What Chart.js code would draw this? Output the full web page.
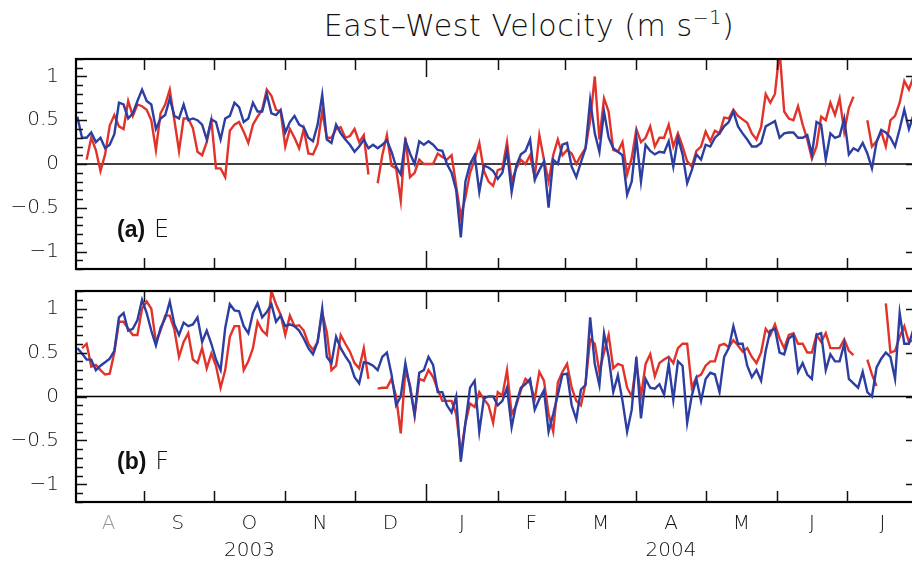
<!DOCTYPE html>
<html>
<head>
<meta charset="utf-8">
<script src="https://cdn.jsdelivr.net/npm/chart.js@4.4.1/dist/chart.umd.min.js"></script>
<style>
  html, body { margin: 0; padding: 0; background: #fff; overflow: hidden; }
  #wrap { position: relative; width: 912px; height: 564px; overflow: hidden; }
  canvas { position: absolute; left: 0; }
  #title {
    position: absolute; left: 0; width: 1058px; top: 8px; text-align: center;
    font-family: "DejaVu Sans", sans-serif; font-weight: 200; font-size: 30px; color: #111;
    letter-spacing: 0.6px;
  }
  #title sup { font-size: 19px; vertical-align: 12px; line-height: 0; }
</style>
</head>
<body>
<div id="wrap">
  <div id="title">East–West Velocity (m s<sup>−1</sup>)</div>
  <canvas id="panelE" width="920" height="280" style="top:0"></canvas>
  <canvas id="panelF" width="920" height="284" style="top:280px"></canvas>
</div>
<script>
// days since 1 Aug 2003, one sample every 2 days (day 2 ... day 364)
const firstDay = 2;
const dayStep = 2;

// (a) E
const eBlue = [
  0.54, 0.30, 0.30, 0.36, 0.25, 0.30, 0.18, 0.22, 0.34, 0.70,
  0.68, 0.52, 0.58, 0.72, 0.85, 0.72, 0.68, 0.40, 0.52, 0.56,
  0.75, 0.55, 0.52, 0.68, 0.50, 0.52, 0.50, 0.45, 0.28, 0.51,
  0.48, 0.28, 0.52, 0.55, 0.70, 0.65, 0.48, 0.52, 0.70, 0.60,
  0.60, 0.80, 0.58, 0.56, 0.62, 0.36, 0.48, 0.55, 0.45, 0.42,
  0.30, 0.26, 0.45, 0.79, 0.28, 0.24, 0.45, 0.35, 0.28, 0.22,
  0.14, 0.20, 0.28, 0.18, 0.22, 0.18, 0.22, 0.27, 0.14, -0.03,
  -0.12, 0.27, 0.12, 0.00, 0.26, 0.22, 0.26, 0.22, 0.16, 0.15,
  0.00, -0.10, -0.30, -0.84, -0.20, 0.00, 0.10, -0.32, -0.02, -0.04,
  -0.08, -0.17, -0.10, 0.15, -0.32, -0.02, 0.11, 0.15, 0.28, -0.18,
  -0.07, 0.03, -0.50, 0.05, 0.00, 0.22, 0.24, -0.03, -0.15, 0.02,
  0.18, 0.73, 0.35, 0.14, 0.60, 0.30, 0.18, 0.14, 0.10, -0.35,
  -0.20, 0.30, -0.20, 0.22, 0.15, 0.11, 0.14, 0.13, 0.26, -0.03,
  0.30, 0.11, -0.22, -0.07, 0.11, 0.05, 0.22, 0.20, 0.30, 0.35,
  0.43, 0.48, 0.60, 0.43, 0.35, 0.28, 0.20, 0.20, 0.24, 0.43,
  0.46, 0.49, 0.30, 0.35, 0.36, 0.36, 0.30, 0.30, 0.33, 0.11,
  0.48, 0.45, 0.05, 0.35, 0.30, 0.32, 0.52, 0.11, 0.18, 0.15,
  0.24, 0.12, -0.05, 0.25, 0.39, 0.36, 0.30, 0.20, 0.40, 0.62,
  0.40, 0.56
];
const eRed = [
  null, null, 0.05, 0.30, 0.16, -0.08, 0.11, 0.44, 0.56, 0.43,
  0.40, 0.72, 0.55, 0.68, 0.66, 0.62, 0.50, 0.16, 0.58, 0.68,
  0.85, 0.50, 0.15, 0.52, 0.52, 0.41, 0.14, 0.10, 0.25, 0.50,
  -0.05, -0.05, -0.15, 0.38, 0.45, 0.48, 0.37, 0.24, 0.45, 0.54,
  0.62, 0.85, 0.78, 0.62, 0.60, 0.20, 0.40, 0.30, 0.18, 0.40,
  0.12, 0.11, 0.23, 0.60, 0.30, 0.30, 0.40, 0.42, 0.30, 0.32,
  0.40, 0.25, 0.33, -0.12, null, -0.22, 0.10, 0.33, -0.02, -0.05,
  -0.42, 0.30, -0.15, -0.10, 0.05, 0.00, 0.00, 0.00, 0.12, 0.08,
  0.05, 0.10, -0.25, -0.60, -0.38, -0.10, 0.05, 0.24, -0.08, -0.20,
  -0.25, -0.07, -0.05, 0.25, -0.20, -0.05, 0.05, 0.00, 0.10, -0.15,
  0.33, 0.05, -0.20, 0.10, 0.28, 0.10, 0.16, 0.12, 0.00, 0.10,
  0.18, 0.50, 1.00, 0.28, 0.75, 0.60, 0.16, 0.14, 0.25, -0.12,
  0.07, 0.40, 0.25, 0.30, 0.43, 0.20, 0.30, 0.30, 0.45, 0.20,
  0.35, 0.20, 0.03, -0.03, 0.15, 0.20, 0.37, 0.26, 0.38, 0.35,
  0.53, 0.52, 0.62, 0.55, 0.51, 0.47, 0.35, 0.28, 0.42, 0.80,
  0.70, 0.80, 1.30, 0.60, 0.52, 0.50, 0.66, 0.45, 0.28, 0.06,
  0.20, 0.54, 0.50, 0.70, 0.56, 0.75, 0.37, 0.64, 0.77, null,
  null, 0.50, 0.20, 0.26, 0.37, 0.20, 0.50, 0.55, 0.70, 0.95,
  0.85, 1.00
];

// (b) F
const fBlue = [
  0.55, 0.49, 0.42, 0.42, 0.30, 0.35, 0.39, 0.43, 0.52, 0.90,
  0.95, 0.75, 0.77, 0.87, 1.10, 0.95, 0.75, 0.58, 0.78, 0.89,
  1.08, 0.82, 0.70, 0.84, 0.80, 0.82, 0.90, 0.62, 0.75, 0.60,
  0.42, 0.30, 0.78, 1.05, 0.98, 0.97, 0.80, 0.72, 0.95, 1.06,
  0.90, 0.96, 1.05, 0.85, 0.92, 0.80, 0.82, 0.80, 0.75, 0.66,
  0.55, 0.48, 0.62, 1.00, 0.45, 0.38, 0.68, 0.55, 0.46, 0.38,
  0.22, 0.15, 0.39, 0.38, 0.35, 0.30, 0.45, 0.50, 0.25, -0.10,
  0.00, 0.38, 0.10, -0.20, 0.27, 0.30, 0.45, 0.36, 0.05, 0.05,
  -0.10, -0.18, 0.00, -0.74, -0.30, 0.10, 0.18, -0.40, -0.02, 0.00,
  0.00, -0.10, -0.05, 0.10, -0.35, -0.08, 0.10, 0.14, 0.20, -0.15,
  -0.03, 0.07, -0.40, -0.20, 0.02, 0.25, 0.26, -0.10, -0.26, 0.08,
  0.13, 0.90, 0.37, 0.13, 0.72, 0.45, 0.05, 0.24, -0.05, -0.40,
  -0.15, 0.45, -0.25, 0.20, 0.10, 0.09, 0.14, 0.02, 0.37, -0.04,
  0.40, 0.35, -0.30, 0.01, 0.20, -0.05, 0.20, 0.27, 0.25, 0.05,
  0.45, 0.55, 0.80, 0.60, 0.60, 0.35, 0.22, 0.30, 0.18, 0.52,
  0.75, 0.77, 0.50, 0.48, 0.66, 0.70, 0.28, 0.38, 0.25, 0.20,
  0.70, 0.72, 0.30, 0.48, 0.40, 0.40, 0.60, 0.20, 0.15, 0.10,
  0.28, 0.05, 0.00, 0.33, 0.43, 0.50, 0.45, 0.20, 0.95, 0.60,
  0.60, 0.77
];
const fRed = [
  null, 0.55, 0.60, 0.34, 0.36, 0.30, 0.25, 0.26, 0.50, 0.85,
  0.85, 0.77, 0.70, 0.70, 1.00, 1.08, 1.00, 0.62, 0.75, 0.92,
  0.92, 0.76, 0.45, 0.62, 0.72, 0.42, 0.38, 0.55, 0.32, 0.49,
  0.35, 0.10, 0.30, 0.68, 0.80, 0.80, 0.30, 0.40, 0.55, 0.85,
  0.75, 0.70, 1.20, 1.05, 0.93, 0.70, 0.92, 0.80, 0.81, 0.75,
  0.60, 0.53, 0.62, 0.95, 0.73, 0.30, 0.35, 0.70, 0.60, 0.51,
  0.38, 0.32, 0.55, 0.20, null, 0.09, 0.10, 0.10, 0.20, 0.00,
  -0.42, 0.30, 0.13, -0.22, 0.20, 0.18, 0.30, 0.22, 0.08, -0.05,
  -0.05, -0.05, -0.20, -0.65, -0.30, -0.08, -0.12, 0.05, -0.03, -0.10,
  -0.30, 0.05, 0.01, 0.30, -0.20, -0.10, 0.07, 0.20, 0.15, -0.03,
  0.28, 0.18, -0.20, -0.40, 0.16, 0.28, 0.37, 0.10, -0.05, -0.10,
  0.15, 0.65, 0.60, 0.28, 0.50, 0.70, 0.32, 0.37, 0.35, 0.10,
  0.00, 0.38, 0.00, 0.37, 0.48, 0.23, 0.38, 0.42, 0.45, 0.38,
  0.55, 0.60, 0.60, 0.10, 0.22, 0.25, 0.35, 0.40, 0.40, 0.58,
  0.60, 0.56, 0.64, 0.58, 0.51, 0.55, 0.45, 0.38, 0.50, 0.77,
  0.70, 0.82, 0.66, 0.55, 0.70, 0.72, 0.60, 0.60, 0.50, 0.50,
  0.70, 0.62, 0.72, 0.55, 0.55, 0.55, 0.65, 0.52, 0.47, null,
  null, 0.42, 0.25, 0.12, null, 1.06, 0.50, 0.52, 0.68, 0.80,
  0.62, 0.64
];

// x axis: month boundaries and mid-month label positions (days since 1 Aug 2003)
const monthStarts = [31, 61, 92, 122, 153, 184, 213, 244, 274, 305, 335];
const yearStarts = [153];
const monthMids = [15.5, 45.5, 76.5, 107, 137.5, 168.5, 198.5, 228.5, 259, 289.5, 320, 350.5];
const monthLabels = ["A", "S", ["O", "2003"], "N", "D", "J", "F", "M", ["A", "2004"], "M", "J", "J"];
const yTickValues = [-1, -0.5, 0, 0.5, 1];
const yTickLabels = ["\u22121", "\u22120.5", "0", "0.5", "1"];

const RED = "#e2332b";
const BLUE = "#2c3ea2";
const THIN = "'DejaVu Sans', sans-serif";

function toPoints(values) {
  return values.map((v, i) => ({ x: firstDay + i * dayStep, y: v }));
}

const framePlugin = {
  id: "frame",
  beforeDatasetsDraw(chart) {
    const { ctx, chartArea: a, scales: { y } } = chart;
    const y0 = y.getPixelForValue(0);
    ctx.save();
    ctx.strokeStyle = "#000";
    ctx.lineWidth = 1.3;
    ctx.beginPath();
    ctx.moveTo(a.left, y0);
    ctx.lineTo(a.right, y0);
    ctx.stroke();
    ctx.restore();
  },
  afterDraw(chart, args, opts) {
    const { ctx, chartArea: a, scales: { x, y } } = chart;
    ctx.save();
    ctx.strokeStyle = "#111";
    ctx.lineWidth = 1.5;
    ctx.beginPath();
    // inward month ticks, top and bottom
    monthStarts.forEach((d) => {
      const px = Math.round(x.getPixelForValue(d)) + 0.5;
      const len = yearStarts.includes(d) ? 18 : 11;
      ctx.moveTo(px, a.top); ctx.lineTo(px, a.top + len);
      ctx.moveTo(px, a.bottom); ctx.lineTo(px, a.bottom - len);
    });
    // inward value ticks, every 0.1 on the left, majors on the right
    for (let k = -12; k <= 12; k++) {
      const py = Math.round(y.getPixelForValue(k / 10)) + 0.5;
      const major = k % 5 === 0;
      ctx.moveTo(a.left, py); ctx.lineTo(a.left + (major ? 11 : 7), py);
      if (major) { ctx.moveTo(a.right, py); ctx.lineTo(a.right - 11, py); }
    }
    ctx.stroke();
    // frame
    ctx.strokeStyle = "#000";
    ctx.lineWidth = 2.2;
    ctx.strokeRect(a.left, a.top, a.right - a.left, a.bottom - a.top);
    // panel tag
    ctx.fillStyle = "#111";
    ctx.textBaseline = "alphabetic";
    ctx.font = "bold 23px 'Liberation Sans', Arial, sans-serif";
    ctx.fillText(opts.tag, a.left + 41, a.top + 178);
    const w = ctx.measureText(opts.tag).width;
    ctx.font = "200 24px " + THIN;
    ctx.fillText(opts.site, a.left + 41 + w + 9, a.top + 178);
    ctx.restore();
  }
};

function makePanel(id, blue, red, tag, site, showMonths) {
  return new Chart(document.getElementById(id), {
    type: "line",
    data: {
      datasets: [
        { data: toPoints(blue), borderColor: BLUE, borderWidth: 2.4, order: 0 },
        { data: toPoints(red), borderColor: RED, borderWidth: 2.4, order: 1 }
      ]
    },
    options: {
      responsive: false,
      animation: false,
      events: [],
      spanGaps: false,
      elements: { point: { radius: 0 }, line: { tension: 0 } },
      layout: { padding: { top: showMonths ? 11 : 59, bottom: showMonths ? 0 : 11, left: 0, right: 3 } },
      plugins: {
        legend: { display: false },
        tooltip: { enabled: false },
        frame: { tag: tag, site: site }
      },
      scales: {
        x: {
          type: "linear",
          min: 1.4,
          max: 365.5,
          display: showMonths,
          grid: { display: false, drawTicks: false },
          border: { display: false },
          afterBuildTicks: (s) => { s.ticks = monthMids.map((v) => ({ value: v })); },
          afterFit: (s) => {
            s.height = showMonths ? 62 : 0;
            s.paddingLeft = 0;
            s.paddingRight = 0;
          },
          ticks: {
            autoSkip: false,
            maxRotation: 0,
            padding: 8,
            color: (c) => (c.index === 0 ? "#9a9a9a" : "#111"),
            font: { family: THIN, size: 20, weight: "200", lineHeight: 1.35 },
            callback: (v, i) => monthLabels[i]
          }
        },
        y: {
          min: -1.2,
          max: 1.2,
          grid: { display: false, drawTicks: false },
          border: { display: false },
          afterBuildTicks: (s) => { s.ticks = yTickValues.map((v) => ({ value: v })); },
          afterFit: (s) => {
            s.width = 76;
            s.paddingTop = 0;
            s.paddingBottom = 0;
          },
          ticks: {
            autoSkip: false,
            padding: 17,
            color: "#111",
            font: { family: THIN, size: 20, weight: "200" },
            callback: (v, i) => yTickLabels[i]
          }
        }
      }
    },
    plugins: [framePlugin]
  });
}

makePanel("panelE", eBlue, eRed, "(a)", "E", false);
makePanel("panelF", fBlue, fRed, "(b)", "F", true);
</script>
</body>
</html>
